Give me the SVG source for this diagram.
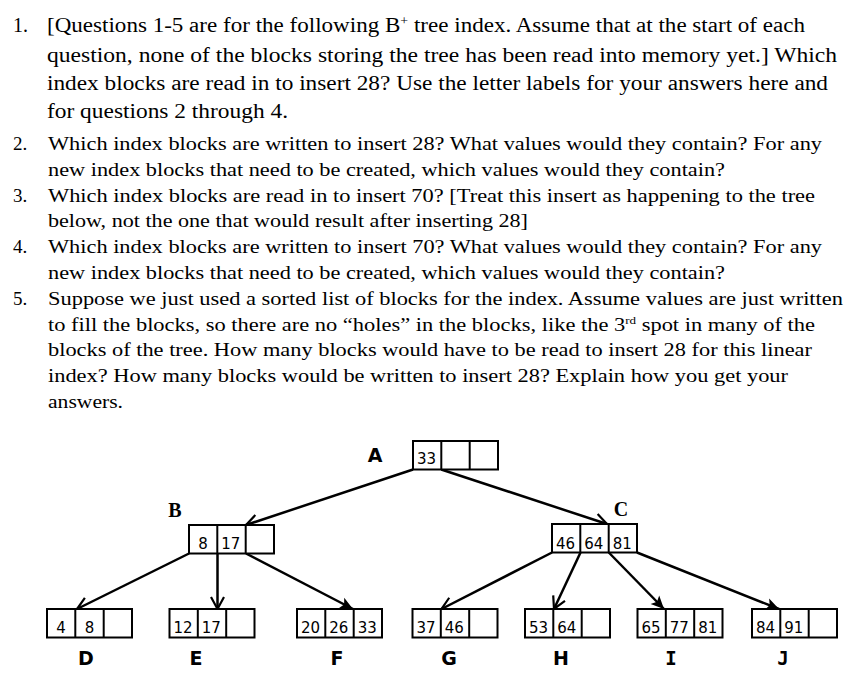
<svg xmlns="http://www.w3.org/2000/svg" width="853" height="675" viewBox="0 0 853 675">
<style>
.g{font-family:"Liberation Serif","Times New Roman",serif;font-size:20px;fill:#000}
.t{font-family:"Liberation Serif","Times New Roman",serif;font-size:19px;fill:#000}
.box{fill:#fff;stroke:#000;stroke-width:2}
.div{stroke:#000;stroke-width:2}
.num{font-family:"DejaVu Sans",Verdana,sans-serif;font-size:15px;text-anchor:middle;fill:#000}
.lbs{font-family:"DejaVu Sans",Verdana,sans-serif;font-weight:bold;font-size:19px;text-anchor:middle}
.lbr{font-family:"Liberation Serif","Times New Roman",serif;font-weight:bold;font-size:20px;text-anchor:middle}
.lbm{font-family:"DejaVu Sans Mono",monospace;font-weight:bold;font-size:19px;text-anchor:middle}
.edge{stroke:#000;stroke-width:2.5;fill:none}
</style>
<defs>
<marker id="open" markerUnits="userSpaceOnUse" markerWidth="16" markerHeight="16" refX="12" refY="6.5" orient="auto" overflow="visible">
<path d="M0,0 L12,6.5 L0,13" fill="none" stroke="#000" stroke-width="2.2"/>
</marker>
<marker id="fill" markerUnits="userSpaceOnUse" markerWidth="16" markerHeight="16" refX="13" refY="6" orient="auto" overflow="visible">
<path d="M0,0 L13,6 L0,12 L3,6 Z" fill="#000"/>
</marker>
</defs>
<rect width="853" height="675" fill="#fff"/>

<g id="questions">
<text class="g" x="13" y="32">1.</text>
<text class="g" x="47" y="32" textLength="758" lengthAdjust="spacingAndGlyphs">[Questions 1-5 are for the following B<tspan dy="-7" font-size="12">+</tspan><tspan dy="7"> tree index. Assume that at the start of each</tspan></text>
<text class="g" x="47" y="62" textLength="790" lengthAdjust="spacingAndGlyphs">question, none of the blocks storing the tree has been read into memory yet.] Which</text>
<text class="g" x="47" y="90" textLength="781" lengthAdjust="spacingAndGlyphs">index blocks are read in to insert 28? Use the letter labels for your answers here and</text>
<text class="g" x="47" y="118" textLength="241" lengthAdjust="spacingAndGlyphs">for questions 2 through 4.</text>

<text class="t" x="13" y="150">2.</text>
<text class="t" x="48" y="150" textLength="774" lengthAdjust="spacingAndGlyphs">Which index blocks are written to insert 28? What values would they contain? For any</text>
<text class="t" x="48" y="175.8" textLength="677" lengthAdjust="spacingAndGlyphs">new index blocks that need to be created, which values would they contain?</text>
<text class="t" x="13" y="201.6">3.</text>
<text class="t" x="48" y="201.6" textLength="767" lengthAdjust="spacingAndGlyphs">Which index blocks are read in to insert 70? [Treat this insert as happening to the tree</text>
<text class="t" x="48" y="227.4" textLength="480" lengthAdjust="spacingAndGlyphs">below, not the one that would result after inserting 28]</text>
<text class="t" x="13" y="253.2">4.</text>
<text class="t" x="48" y="253.2" textLength="774" lengthAdjust="spacingAndGlyphs">Which index blocks are written to insert 70? What values would they contain? For any</text>
<text class="t" x="48" y="279" textLength="677" lengthAdjust="spacingAndGlyphs">new index blocks that need to be created, which values would they contain?</text>
<text class="t" x="13" y="304.8">5.</text>
<text class="t" x="48" y="304.8" textLength="795" lengthAdjust="spacingAndGlyphs">Suppose we just used a sorted list of blocks for the index. Assume values are just written</text>
<text class="t" x="48" y="330.6" textLength="767" lengthAdjust="spacingAndGlyphs">to fill the blocks, so there are no “holes” in the blocks, like the 3<tspan dy="-7" font-size="11">rd</tspan><tspan dy="7"> spot in many of the</tspan></text>
<text class="t" x="48" y="356.4" textLength="764" lengthAdjust="spacingAndGlyphs">blocks of the tree. How many blocks would have to be read to insert 28 for this linear</text>
<text class="t" x="48" y="382.2" textLength="740" lengthAdjust="spacingAndGlyphs">index? How many blocks would be written to insert 28? Explain how you get your</text>
<text class="t" x="48" y="408" textLength="75" lengthAdjust="spacingAndGlyphs">answers.</text>
</g>

<g id="connectors">
<line class="edge" x1="413" y1="469.5" x2="246" y2="525" marker-end="url(#open)"/>
<line class="edge" x1="441.3" y1="469.5" x2="607" y2="524" marker-end="url(#open)"/>
<line class="edge" x1="189" y1="553.5" x2="77" y2="609" marker-end="url(#open)"/>
<line class="edge" x1="217.5" y1="553.5" x2="217.5" y2="609" marker-end="url(#open)"/>
<line class="edge" x1="246" y1="553.5" x2="353" y2="609" marker-end="url(#fill)"/>
<line class="edge" x1="552" y1="552.5" x2="441.5" y2="609" marker-end="url(#open)"/>
<line class="edge" x1="580.5" y1="552.5" x2="554" y2="609" marker-end="url(#open)"/>
<line class="edge" x1="608.8" y1="552.5" x2="664" y2="609" marker-end="url(#fill)"/>
<line class="edge" x1="637" y1="552.5" x2="779" y2="609" marker-end="url(#fill)"/>
</g>

<g id="A">
<rect class="box" x="413" y="441" width="85" height="28.5"/>
<line class="div" x1="441.3" y1="441" x2="441.3" y2="469.5"/><line class="div" x1="469.7" y1="441" x2="469.7" y2="469.5"/>
<text class="num" x="426.5" y="464">33</text>
<text class="lbs" x="375" y="462">A</text>
</g>
<g id="B">
<rect class="box" x="189" y="525" width="85" height="28.5"/>
<line class="div" x1="217.3" y1="525" x2="217.3" y2="553.5"/><line class="div" x1="245.7" y1="525" x2="245.7" y2="553.5"/>
<text class="num" x="203" y="548.5">8</text><text class="num" x="230.8" y="548.5">17</text>
<text class="lbr" x="175" y="517">B</text>
</g>
<g id="C">
<rect class="box" x="552" y="524" width="85" height="28.5"/>
<line class="div" x1="580.3" y1="524" x2="580.3" y2="552.5"/><line class="div" x1="608.7" y1="524" x2="608.7" y2="552.5"/>
<text class="num" x="565.5" y="548.5">46</text><text class="num" x="593.8" y="548.5">64</text><text class="num" x="622.2" y="548.5">81</text>
<text class="lbr" x="621" y="516">C</text>
</g>
<g id="D">
<rect class="box" x="47" y="609" width="85" height="28.5"/>
<line class="div" x1="75.3" y1="609" x2="75.3" y2="637.5"/><line class="div" x1="103.7" y1="609" x2="103.7" y2="637.5"/>
<text class="num" x="61" y="632.5">4</text><text class="num" x="89.5" y="632.5">8</text>
<text class="lbs" x="86" y="665">D</text>
</g>
<g id="E">
<rect class="box" x="169.5" y="609" width="85" height="28.5"/>
<line class="div" x1="197.8" y1="609" x2="197.8" y2="637.5"/><line class="div" x1="226.2" y1="609" x2="226.2" y2="637.5"/>
<text class="num" x="183" y="632.5">12</text><text class="num" x="211.3" y="632.5">17</text>
<text class="lbs" x="196" y="665">E</text>
</g>
<g id="F">
<rect class="box" x="297" y="609" width="85" height="28.5"/>
<line class="div" x1="325.3" y1="609" x2="325.3" y2="637.5"/><line class="div" x1="353.7" y1="609" x2="353.7" y2="637.5"/>
<text class="num" x="310.5" y="632.5">20</text><text class="num" x="338.8" y="632.5">26</text><text class="num" x="367.2" y="632.5">33</text>
<text class="lbs" x="337" y="665">F</text>
</g>
<g id="G">
<rect class="box" x="412.5" y="609" width="85" height="28.5"/>
<line class="div" x1="440.8" y1="609" x2="440.8" y2="637.5"/><line class="div" x1="469.2" y1="609" x2="469.2" y2="637.5"/>
<text class="num" x="426" y="632.5">37</text><text class="num" x="454.3" y="632.5">46</text>
<text class="lbs" x="449" y="665">G</text>
</g>
<g id="H">
<rect class="box" x="525" y="609" width="85" height="28.5"/>
<line class="div" x1="553.3" y1="609" x2="553.3" y2="637.5"/><line class="div" x1="581.7" y1="609" x2="581.7" y2="637.5"/>
<text class="num" x="538.5" y="632.5">53</text><text class="num" x="566.8" y="632.5">64</text>
<text class="lbs" x="561" y="665">H</text>
</g>
<g id="I">
<rect class="box" x="637.5" y="609" width="85" height="28.5"/>
<line class="div" x1="665.8" y1="609" x2="665.8" y2="637.5"/><line class="div" x1="694.2" y1="609" x2="694.2" y2="637.5"/>
<text class="num" x="651" y="632.5">65</text><text class="num" x="679.3" y="632.5">77</text><text class="num" x="707.7" y="632.5">81</text>
<text class="lbm" x="671" y="665">I</text>
</g>
<g id="J">
<rect class="box" x="752" y="609" width="85" height="28.5"/>
<line class="div" x1="780.3" y1="609" x2="780.3" y2="637.5"/><line class="div" x1="808.7" y1="609" x2="808.7" y2="637.5"/>
<text class="num" x="765.5" y="632.5">84</text><text class="num" x="793.8" y="632.5">91</text>
<text class="lbm" x="783" y="665">J</text>
</g>
</svg>
